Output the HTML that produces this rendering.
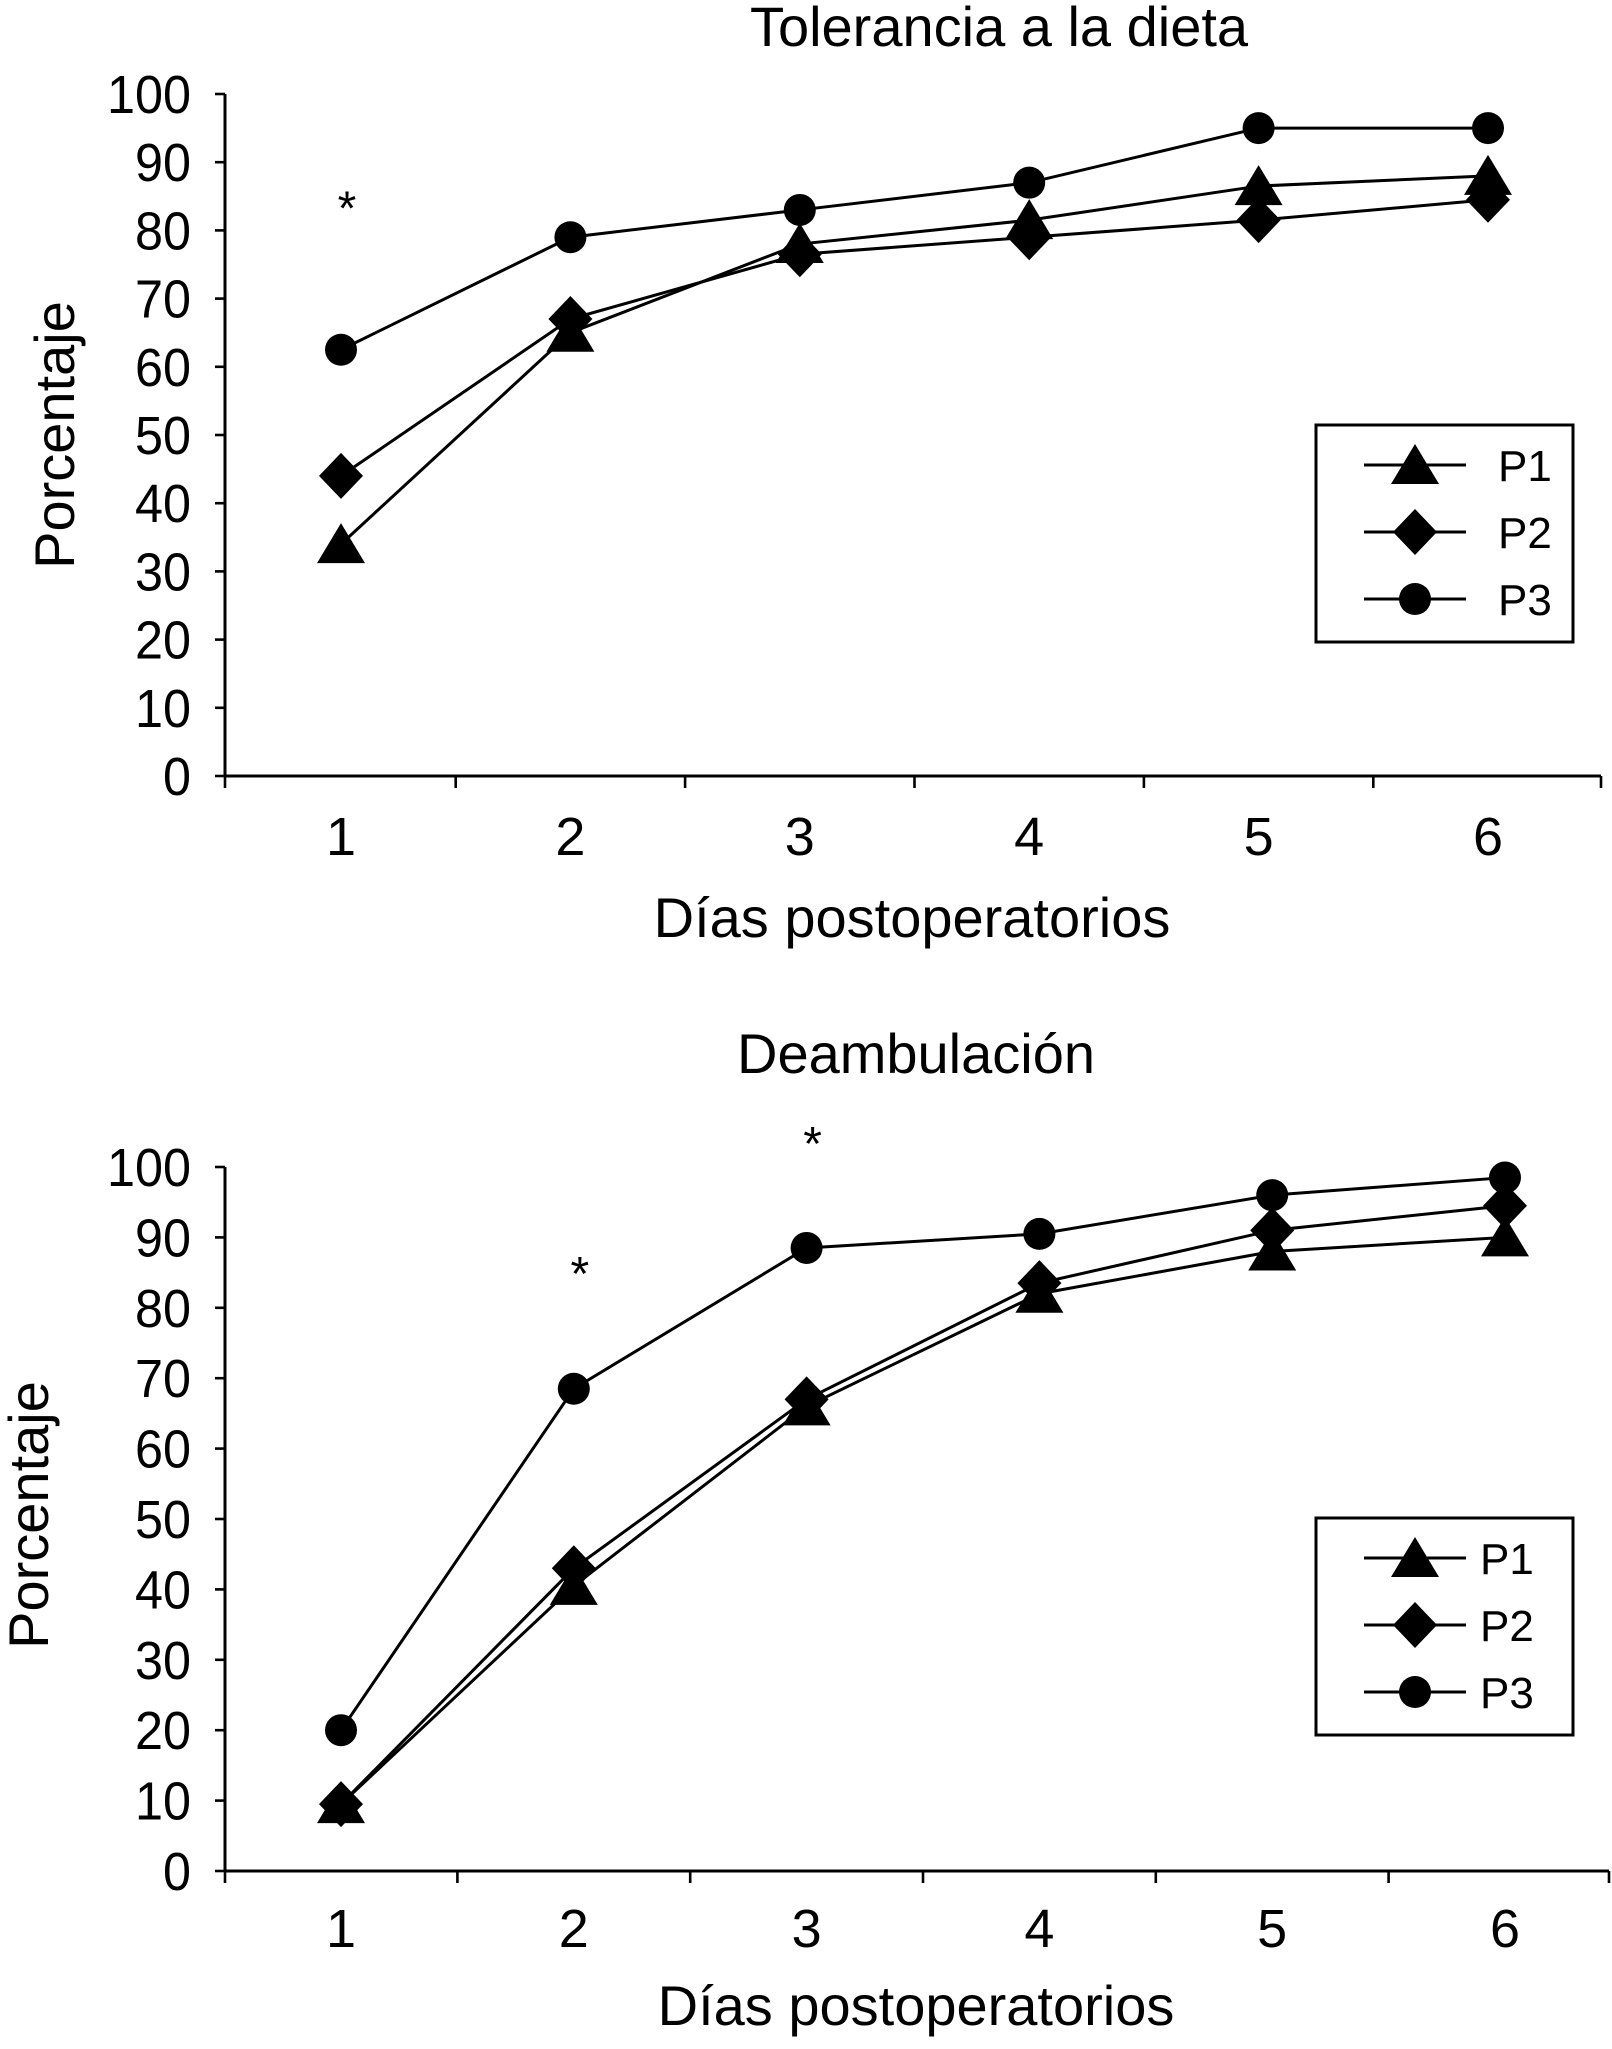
<!DOCTYPE html>
<html><head><meta charset="utf-8"><style>
html,body{margin:0;padding:0;background:#fff;}
svg{display:block;font-family:"Liberation Sans",sans-serif;}
</style></head><body>
<svg id="chart" width="1612" height="2049" viewBox="0 0 1612 2049" xmlns="http://www.w3.org/2000/svg">
<g id="top"></g>
<g id="bottom"></g>
</svg>
<script>
const categories = [1, 2, 3, 4, 5, 6];
const yTicks = [0, 10, 20, 30, 40, 50, 60, 70, 80, 90, 100];
const seriesNames = ["P1", "P2", "P3"];
const dietaP1 = [34, 65, 78, 81.5, 86.5, 88];
const dietaP2 = [44, 67, 76.5, 79, 81.5, 84.5];
const dietaP3 = [62.5, 79, 83, 87, 95, 95];
const dietaStars = [[1, 85]];
const deamP1 = [9.5, 40.5, 66, 82, 88, 90];
const deamP2 = [9.5, 43, 67, 83.5, 91, 94.5];
const deamP3 = [20, 68.5, 88.5, 90.5, 96, 98.5];
const deamStars = [[2, 86.5], [3, 105]];

const NS = "http://www.w3.org/2000/svg";
function mk(parent, tag, attrs, text) {
  const e = document.createElementNS(NS, tag);
  for (const k in attrs) e.setAttribute(k, attrs[k]);
  if (text !== undefined) e.textContent = text;
  parent.appendChild(e);
  return e;
}
function marker(g, kind, cx, cy) {
  let e;
  if (kind === 0) e = mk(g, "polygon", {points: `${cx-24},${cy+19} ${cx+24},${cy+19} ${cx},${cy-21}`, fill: "#000"});
  else if (kind === 1) e = mk(g, "polygon", {points: `${cx},${cy-23} ${cx+22},${cy} ${cx},${cy+23} ${cx-22},${cy}`, fill: "#000"});
  else e = mk(g, "circle", {cx: cx, cy: cy, r: 16, fill: "#000"});
  return e;
}
function draw(cfg) {
  const g = document.getElementById(cfg.id);
  const xS = c => cfg.x0 + (c - 1) * cfg.dx;
  const yS = v => cfg.y0 - v / 100 * (cfg.y0 - cfg.y100);
  const t = mk(g, "text", {x: cfg.titleX, y: cfg.titleY, "font-size": 56, "text-anchor": "middle"}, cfg.title);
  
  
  const ya = mk(g, "line", {x1: cfg.ax, y1: cfg.y100, x2: cfg.ax, y2: cfg.y0, stroke: "#000", "stroke-width": 3});
  
  
  const xa = mk(g, "line", {x1: cfg.ax, y1: cfg.y0, x2: cfg.axEnd, y2: cfg.y0, stroke: "#000", "stroke-width": 3});
  
  
  yTicks.forEach(v => {
    const y = yS(v);
    mk(g, "line", {x1: cfg.ax - 10, y1: y, x2: cfg.ax, y2: y, stroke: "#000", "stroke-width": 2.6});
    const l = mk(g, "text", {x: cfg.ax - 34, y: y + 19, "font-size": 54, "text-anchor": "end", textLength: String(v).length * 28, lengthAdjust: "spacingAndGlyphs"}, String(v));
    
    
  });
  for (let i = 0; i <= categories.length; i++) {
    const x = i === 0 ? cfg.ax : (i === categories.length ? cfg.axEnd : xS(i + 0.5));
    mk(g, "line", {x1: x, y1: cfg.y0, x2: x, y2: cfg.y0 + 12, stroke: "#000", "stroke-width": 2.6});
  }
  categories.forEach(c => {
    const l = mk(g, "text", {x: xS(c), y: cfg.xLabY, "font-size": 54, "text-anchor": "middle"}, String(c));
    
    
  });
  const xt = mk(g, "text", {x: cfg.xTitleX, y: cfg.xTitleY, "font-size": 56, "text-anchor": "middle"}, "Días postoperatorios");
  
  
  const yt = mk(g, "text", {x: 0, y: 0, "font-size": 56, "text-anchor": "middle", transform: `translate(${cfg.yTitleX},${cfg.yTitleY}) rotate(-90)`}, "Porcentaje");
  
  
  cfg.series.forEach((vals, si) => {
    const pts = vals.map((v, i) => `${xS(categories[i])},${yS(v)}`).join(" ");
    const pl = mk(g, "polyline", {points: pts, fill: "none", stroke: "#000", "stroke-width": 3});
    
    
    vals.forEach((v, i) => {
      const m = marker(g, si, xS(categories[i]), yS(v));
      
      
    });
  });
  cfg.stars.forEach(s => {
    const st = mk(g, "text", {x: xS(s[0]) + 6, y: yS(s[1]) + 28, "font-size": 48, "text-anchor": "middle"}, "*");
    
    
  });
  const lg = mk(g, "g", {});
  
  
  mk(lg, "rect", {x: 1316, y: cfg.legY, width: 257, height: 217, fill: "#fff", stroke: "#000", "stroke-width": 3});
  seriesNames.forEach((n, i) => {
    const y = cfg.legY + 40 + i * 67;
    const e = mk(lg, "g", {});
    
    
    mk(e, "line", {x1: 1364, y1: y, x2: 1466, y2: y, stroke: "#000", "stroke-width": 3});
    marker(e, i, 1415, y);
    mk(e, "text", {x: cfg.legTextX, y: y + 16, "font-size": 44}, n);
  });
}
draw({id: "top", title: "Tolerancia a la dieta", titleX: 999, titleY: 46,
  ax: 225, axEnd: 1601, y0: 776, y100: 94, x0: 341, dx: 229.4,
  xLabY: 855, xTitleX: 912, xTitleY: 937, yTitleX: 74, yTitleY: 435,
  series: [dietaP1, dietaP2, dietaP3], stars: dietaStars, legY: 425, legTextX: 1498});
draw({id: "bottom", title: "Deambulación", titleX: 916, titleY: 1073,
  ax: 225, axEnd: 1609, y0: 1871, y100: 1167, x0: 341, dx: 232.8,
  xLabY: 1947, xTitleX: 916, xTitleY: 2025, yTitleX: 48, yTitleY: 1515,
  series: [deamP1, deamP2, deamP3], stars: deamStars, legY: 1518, legTextX: 1480});
</script>
</body></html>
